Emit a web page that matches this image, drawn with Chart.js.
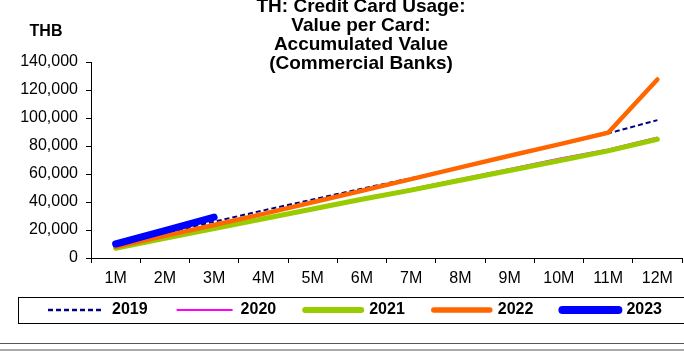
<!DOCTYPE html>
<html><head><meta charset="utf-8">
<script src="https://cdn.jsdelivr.net/npm/chart.js@4"></script>
<style>html,body{margin:0;padding:0;background:#fff}#wrap{width:684px;height:354px}</style>
</head><body><div id="wrap"><canvas id="c" width="684" height="354"></canvas></div>
<script>
const categories = ['1M','2M','3M','4M','5M','6M','7M','8M','9M','10M','11M','12M'];
const seriesNames = ['2019','2020','2021','2022','2023'];
const s2019 = [9000, 17600, 26000, 34000, 41800, 49500, 57000, 64800, 72800, 80800, 89000, 98500];
const s2020 = [7300, 14300, 21300, 28300, 35300, 42400, 49400, 56600, 63800, 71000, 77700, 86200];
const s2021 = [7000, 14000, 21000, 28000, 35000, 42000, 48500, 55500, 62500, 69500, 76500, 84800];
const s2022 = [8000, 15800, 23600, 31500, 39800, 48000, 56300, 64700, 73000, 81200, 89500, 127500];
const s2023 = [10000, 19500, 29200];
const yTicks = [0, 20000, 40000, 60000, 80000, 100000, 120000, 140000];
const titleLines = ['TH: Credit Card Usage:', 'Value per Card:', 'Accumulated Value', '(Commercial Banks)'];
const unitLabel = 'THB';

const FAM = '"Liberation Sans", Arial, Helvetica, sans-serif';
const LEGEND_FONT = 16;
const LEGEND_PAD = 29;

const decor = {
  id: 'decor',
  afterLayout(chart) {
    const lg = chart.legend;
    if (lg) {
      const dy = 310 - (lg.top + LEGEND_PAD + LEGEND_FONT / 2);
      lg.top += dy; lg.bottom += dy;
      lg.left += 14; lg.right += 14;
    }
    const tb = chart.titleBlock;
    if (tb) { tb.left += 20; tb.right += 20; }
  },
  afterDraw(chart) {
    const ctx = chart.ctx;
    ctx.save();
    ctx.font = 'bold 16px ' + FAM;
    ctx.fillStyle = '#000';
    ctx.textAlign = 'center';
    ctx.textBaseline = 'middle';
    ctx.fillText(unitLabel, 46, 32);
    ctx.strokeStyle = '#000';
    ctx.lineWidth = 1;
    ctx.strokeRect(18.5, 297.5, 700, 26);
    ctx.strokeStyle = '#555';
    ctx.beginPath(); ctx.moveTo(0, 343.5); ctx.lineTo(684, 343.5); ctx.stroke();
    ctx.strokeStyle = '#aaa';
    ctx.lineWidth = 2;
    ctx.beginPath(); ctx.moveTo(0, 350); ctx.lineTo(684, 350); ctx.stroke();
    ctx.restore();
  }
};

function ds(label, data, color, width, extra) {
  return Object.assign({
    label, data, borderColor: color, backgroundColor: color, borderWidth: width,
    pointRadius: 0, pointHoverRadius: 0, tension: 0, fill: false
  }, extra || {});
}

new Chart(document.getElementById('c'), {
  type: 'line',
  data: {
    labels: categories,
    datasets: [
      ds(seriesNames[0], s2019, '#000080', 2, {borderDash: [5, 3], order: 5}),
      ds(seriesNames[1], s2020, '#FF00FF', 1.5, {order: 4}),
      ds(seriesNames[2], s2021, '#99CC00', 5, {order: 3, borderCapStyle: 'round'}),
      ds(seriesNames[3], s2022, '#FF6600', 4.5, {order: 2, borderCapStyle: 'round'}),
      ds(seriesNames[4], s2023, '#0000FF', 7, {order: 1, borderCapStyle: 'round'})
    ]
  },
  options: {
    responsive: false,
    animation: false,
    devicePixelRatio: 1,
    layout: {padding: {left: 0, right: 2, top: 0, bottom: 11}},
    scales: {
      x: {
        type: 'category',
        offset: true,
        grid: {display: true, drawOnChartArea: false, drawTicks: true, tickLength: 5, color: '#000', offset: true},
        border: {display: true, color: '#000', width: 1},
        ticks: {color: '#000', font: {family: FAM, size: 16}, padding: 6, maxRotation: 0, autoSkip: false},
        afterFit(s) { s.height = 30; }
      },
      y: {
        min: yTicks[0],
        max: yTicks[yTicks.length - 1],
        afterBuildTicks(s) { s.ticks = yTicks.map(v => ({value: v})); },
        grid: {display: true, drawOnChartArea: false, drawTicks: true, tickLength: 5, color: '#000'},
        border: {display: true, color: '#000', width: 1},
        ticks: {color: '#000', font: {family: FAM, size: 16}, padding: 8,
          callback: v => Number(v).toLocaleString('en-US')},
        afterFit(s) { s.width = 91; }
      }
    },
    plugins: {
      title: {
        display: true,
        text: titleLines,
        color: '#000',
        font: {family: FAM, size: 19, weight: 'bold', lineHeight: '19px'},
        padding: {top: -3, bottom: -11}
      },
      legend: {
        position: 'bottom',
        labels: {
          usePointStyle: true,
          pointStyle: 'line',
          pointStyleWidth: 56,
          color: '#000',
          font: {family: FAM, size: LEGEND_FONT, weight: 'bold'},
          padding: LEGEND_PAD,
          sort: (a, b) => a.datasetIndex - b.datasetIndex,
          generateLabels(chart) {
            const items = Chart.defaults.plugins.legend.labels.generateLabels(chart);
            items.forEach(it => {
              const d = chart.data.datasets[it.datasetIndex];
              it.lineDash = d.borderDash || [];
              it.lineWidth = d.borderWidth + (d.borderWidth >= 4 ? 1 : 0.5);
              it.lineCap = d.borderCapStyle || 'butt';
              it.strokeStyle = d.borderColor;
              it.fillStyle = d.borderColor;
            });
            return items;
          }
        }
      },
      tooltip: {enabled: false}
    }
  },
  plugins: [decor]
});
</script>
</body></html>
